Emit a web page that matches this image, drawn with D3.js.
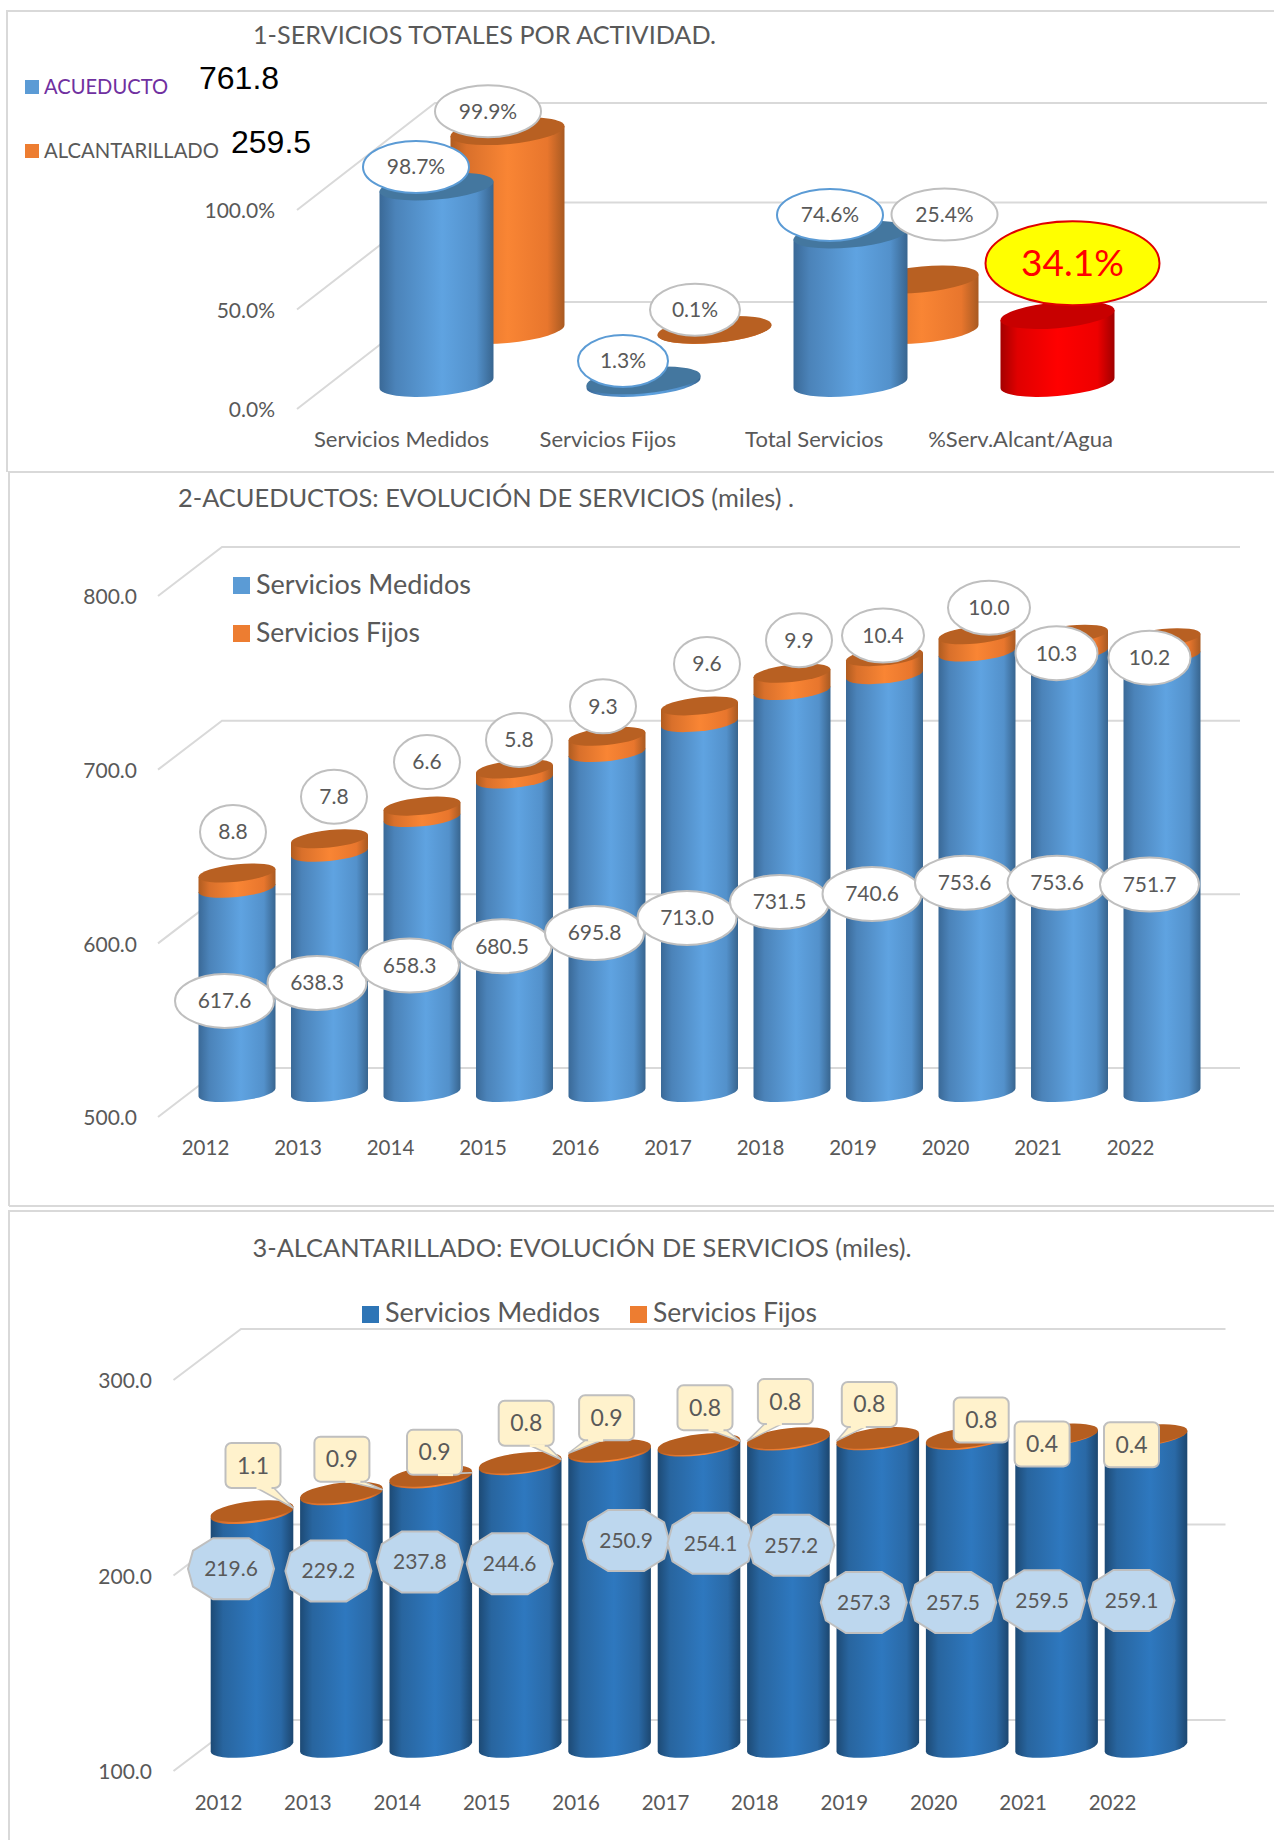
<!DOCTYPE html>
<html><head><meta charset="utf-8">
<script src="https://cdn.jsdelivr.net/npm/d3@7"></script>
<style>
html,body{margin:0;padding:0;background:#fff}
svg{display:block}
text{font-family:Lato,"Open Sans",sans-serif;fill:#595959}
</style></head>
<body><svg id="c" width="1274" height="1840"></svg>
<script>
// ---------- data ----------
const activityCats = ["Servicios Medidos","Servicios Fijos","Total Servicios","%Serv.Alcant/Agua"];
const acueductoPct = [98.7,1.3,74.6];
const alcantarilladoPct = [99.9,0.1,25.4];
const ratioPct = 34.1;
const pctTicks = [0,50,100];
const acueductoTotal = 761.8;
const alcantarilladoTotal = 259.5;

const years = ["2012","2013","2014","2015","2016","2017","2018","2019","2020","2021","2022"];
const acuMedidos = [617.6,638.3,658.3,680.5,695.8,713.0,731.5,740.6,753.6,753.6,751.7];
const acuFijos   = [8.8,7.8,6.6,5.8,9.3,9.6,9.9,10.4,10.0,10.3,10.2];
const acuTicks   = [500,600,700,800];
const alcMedidos = [219.6,229.2,237.8,244.6,250.9,254.1,257.2,257.3,257.5,259.5,259.1];
const alcFijos   = [1.1,0.9,0.9,0.8,0.9,0.8,0.8,0.8,0.8,0.4,0.4];
const alcTicks   = [100,200,300];

// ---------- label placement (offsets from each bar's scaled position) ----------
const acuFijoOff = [[-4,-41],[4.5,-42],[5,-44],[4.5,-29],[-4,-30],[7.5,-42],[7,-33],[-1.5,-21],[12,-27],[-13,19],[-12.5,20]];
const alcMedOff = [[-21,55],[-13,76],[-11,84],[-10.5,99],[16.5,88],[11.5,97],[3,105],[-14,162.5],[-14,163],[-14.5,165],[-14.5,164]];
const alcFijoOff = [[1,-46],[0.5,-34],[3.7,-24],[6,-40],[-3,-33],[6,-37],[-3,-37],[-8.5,-34],[14,-18],[-14.5,9],[-14.5,9]];
const alcPointer = ["r","r","r","r","l","r","l","l",null,null,null];

const svg = d3.select("#c");
const defs = svg.append("defs");
const GRID = "#d9d9d9", TXT = "#595959";

function grad(id, stops){
  const g = defs.append("linearGradient").attr("id",id).attr("x1",0).attr("x2",1).attr("y1",0).attr("y2",0);
  stops.forEach(([o,c])=>g.append("stop").attr("offset",o).attr("stop-color",c));
}
grad("gBlue",[[0,"#3a6997"],[.14,"#4b83b9"],[.55,"#5fa3e1"],[.85,"#5391cb"],[1,"#38658f"]]);
grad("gOrange",[[0,"#b05c20"],[.14,"#d9702b"],[.5,"#f98534"],[.85,"#e8762d"],[1,"#a85a22"]]);
grad("gRed",[[0,"#a40000"],[.15,"#e00000"],[.5,"#ff0000"],[.85,"#ee0000"],[1,"#a00000"]]);
grad("gDark",[[0,"#1d4a75"],[.15,"#28659f"],[.55,"#2e78bf"],[.85,"#2a69a6"],[1,"#1c4770"]]);

function label(x,y,str,o={}){
  const t = svg.append("text").attr("x",x).attr("y",y).attr("dy",".35em").text(str)
    .attr("text-anchor",o.anchor||"middle").style("font-size",(o.size||21)+"px");
  if(o.width) t.attr("textLength",o.width).attr("lengthAdjust","spacingAndGlyphs");
  if(o.color) t.style("fill",o.color);
  if(o.family) t.style("font-family",o.family);
  return t;
}
function frame(x,y1,y2){
  svg.append("path").attr("d",`M${x},${y2}V${y1}H1274`).attr("fill","none").attr("stroke",GRID).attr("stroke-width",2);
}
function plane(y,ticks,xFront,dx,dy,xRight){
  ticks.forEach(t=>{
    const py=y(t);
    svg.append("path").attr("d",d3.line()([[xFront,py],[xFront+dx,py-dy],[xRight,py-dy]]))
      .attr("fill","none").attr("stroke",GRID).attr("stroke-width",2);
  });
}
function yAxis(y,ticks,fmt,x){
  const g = svg.append("g").attr("transform",`translate(${x},0)`)
    .call(d3.axisLeft(y).tickValues(ticks).tickFormat(fmt).tickSize(0).tickPadding(0));
  g.select(".domain").remove();
  g.selectAll("text").attr("dy",".38em").style("font-family","Lato").style("font-size","21px").style("fill",TXT);
}
function xAxis(x,yPos,size){
  const g = svg.append("g").attr("transform",`translate(0,${yPos})`)
    .call(d3.axisBottom(x).tickSize(0).tickPadding(0));
  g.select(".domain").remove();
  g.selectAll("text").attr("y",0).attr("dy",".35em").style("font-family","Lato").style("font-size",size+"px").style("fill",TXT);
}
// one cylinder segment: base centre (cx,yBase), top at yTop
function cyl(cx,yBase,yTop,c){
  const h=yBase-yTop, g=svg.append("g").attr("transform",`translate(${cx},${yBase}) skewY(${c.skew})`);
  g.append("path").attr("d",`M${-c.rx},${-h}V0A${c.rx},${c.ry} 0 0 0 ${c.rx},0V${-h}Z`).attr("fill",`url(#${c.body})`);
  if(c.cap) g.append("ellipse").attr("cx",0).attr("cy",-h).attr("rx",c.rx).attr("ry",c.ry).attr("fill",c.cap);
}
function bubble(x,y,str,o={}){
  svg.append("ellipse").attr("cx",x).attr("cy",y).attr("rx",o.rx).attr("ry",o.ry)
    .attr("fill",o.fill||"#fff").attr("stroke",o.stroke||"#bfbfbf").attr("stroke-width",o.sw||2);
  label(x,y,str,{size:o.size||21,color:o.color});
}

// ---------- chart 1 ----------
frame(7,11,472);
label(484.5,35,"1-SERVICIOS TOTALES POR ACTIVIDAD.",{size:25,width:463});
[[80,"#5b9bd5","ACUEDUCTO","#7030a0",124,acueductoTotal,199,78],[144,"#ed7d31","ALCANTARILLADO",TXT,175,alcantarilladoTotal,231,142]]
.forEach(([sy,col,name,tc,w,val,vx,vy])=>{
  svg.append("rect").attr("x",25).attr("y",sy).attr("width",14).attr("height",14).attr("fill",col);
  label(44,sy+7,name,{anchor:"start",size:21,width:w,color:tc});
  label(vx,vy,val.toFixed(1),{anchor:"start",size:32,color:"#000",family:"Liberation Sans"});
});
{
  const y = d3.scaleLinear().domain([0,100]).range([409,210]);
  const x = d3.scalePoint().domain(activityCats).range([401,1020]);
  const xBar = d3.scalePoint().domain(activityCats).range([436.5,1057.5]);
  const front=-26, back=-79;             // depth offsets of the two rows
  const bx=c=>xBar(c), ox=c=>xBar(c)+71;
  plane(y,pctTicks,297,138,107,1267);
  yAxis(y,pctTicks,d=>d.toFixed(1)+"%",275);
  xAxis(x,439,22);
  const base={rx:57,ry:13,skew:-5};
  activityCats.slice(0,3).forEach((c,i)=>{
    cyl(ox(c),y(0)+back,y(alcantarilladoPct[i])+back,{...base,body:"gOrange",cap:"#b86022"});
    cyl(bx(c),y(0)+front,y(acueductoPct[i])+front,{...base,body:"gBlue",cap:"#44779f"});
  });
  const c4=activityCats[3];
  cyl(bx(c4),y(0)+front,y(ratioPct)+front,{...base,body:"gRed",cap:"#c80000"});
  activityCats.slice(0,3).forEach((c,i)=>{
    const ox2 = i==2 ? [23,-65] : [-19.5,-20];
    const rx = i==1?45:53;
    bubble(bx(c)-20.5,y(acueductoPct[i])+front-19.5,acueductoPct[i].toFixed(1)+"%",{rx,ry:26,stroke:"#5b9bd5"});
    bubble(ox(c)+ox2[0],y(alcantarilladoPct[i])+back+ox2[1],alcantarilladoPct[i].toFixed(1)+"%",{rx,ry:26});
  });
  bubble(bx(c4)+15,y(ratioPct)+front-52,ratioPct.toFixed(1)+"%",{rx:87,ry:42,fill:"#ffff00",stroke:"#e00000",size:37,color:"#ff0000"});
}

// ---------- chart 2 ----------
frame(9,472,1206);
svg.append("path").attr("d","M9,1206H1274").attr("stroke",GRID).attr("stroke-width",2);
label(486,498,"2-ACUEDUCTOS: EVOLUCIÓN DE SERVICIOS (miles) .",{size:25,width:616});
[[577,"#5b9bd5","Servicios Medidos",215],[625,"#ed7d31","Servicios Fijos",164]].forEach(([sy,col,name,w])=>{
  svg.append("rect").attr("x",233).attr("y",sy).attr("width",17).attr("height",17).attr("fill",col);
  label(256,sy+8,name,{anchor:"start",size:26,width:w});
});
{
  const y = d3.scaleLinear().domain([500,800]).range([1117,596]);
  const x = d3.scalePoint().domain(years).range([205,1130]);
  const depth=-24.5, shift=32;
  plane(y,acuTicks,158,64,49,1240);
  yAxis(y,acuTicks,d=>d.toFixed(1),137);
  xAxis(x,1148,20.5);
  const c={rx:38.5,ry:8.7,skew:-5.8};
  years.forEach((yr,i)=>{
    const cx=x(yr)+shift, yb=y(500)+depth, ym=y(acuMedidos[i])+depth, yt=y(acuMedidos[i]+acuFijos[i])+depth;
    cyl(cx,yb,ym,{...c,body:"gBlue"});
    cyl(cx,ym,yt,{...c,body:"gOrange",cap:"#b86022"});
  });
  years.forEach((yr,i)=>{
    const cx=x(yr)+shift, yb=y(500)+depth, ym=y(acuMedidos[i])+depth, yt=y(acuMedidos[i]+acuFijos[i])+depth;
    const big=acuFijos[i]>=10;
    bubble(cx-12.5,(yb+ym)/2+10.5,acuMedidos[i].toFixed(1),{rx:49.5,ry:27});
    bubble(cx+acuFijoOff[i][0],yt+acuFijoOff[i][1],acuFijos[i].toFixed(1),{rx:big?41:33,ry:27});
  });
}

// ---------- chart 3 ----------
frame(9,1211,1840);
label(582,1248,"3-ALCANTARILLADO: EVOLUCIÓN DE SERVICIOS (miles).",{size:25,width:659});
[[362,"#2e75b6","Servicios Medidos",215],[630,"#ed7d31","Servicios Fijos",164]].forEach(([sx,col,name,w])=>{
  svg.append("rect").attr("x",sx).attr("y",1306).attr("width",17).attr("height",17).attr("fill",col);
  label(sx+23,1313,name,{anchor:"start",size:26,width:w});
});
{
  const y = d3.scaleLinear().domain([100,300]).range([1771,1380]);
  const x = d3.scalePoint().domain(years).range([218,1112]);
  const depth=-24, shift=34;
  plane(y,alcTicks,173.5,67.5,51,1225.5);
  yAxis(y,alcTicks,d=>d.toFixed(1),152);
  xAxis(x,1803,20.5);
  const c={rx:41.3,ry:9.8,skew:-6.5};
  years.forEach((yr,i)=>{
    const cx=x(yr)+shift, yb=y(100)+depth, ym=y(alcMedidos[i])+depth, yt=y(alcMedidos[i]+alcFijos[i])+depth;
    cyl(cx,yb,ym,{...c,body:"gDark"});
    cyl(cx,ym,yt,{...c,body:"gOrange",cap:"#b55e20"});
  });
  const deca=d3.line()([[-43,0],[-38,-18],[-18,-30.5],[18,-30.5],[38,-18],[43,0],[38,18],[18,30.5],[-18,30.5],[-38,18]])+"Z";
  years.forEach((yr,i)=>{
    const cx=x(yr)+shift, ym=y(alcMedidos[i])+depth, yt=y(alcMedidos[i]+alcFijos[i])+depth;
    const lx=cx+alcMedOff[i][0], ly=ym+alcMedOff[i][1]+0.5;
    svg.append("path").attr("d",deca).attr("transform",`translate(${lx},${ly})`)
      .attr("fill","#bdd7ee").attr("stroke","#bfbfbf").attr("stroke-width",2);
    label(lx,ly,alcMedidos[i].toFixed(1),{size:21});
    // callout
    const bx=cx+alcFijoOff[i][0], by=yt+alcFijoOff[i][1]+0.5, w=27.5, h=22.5, r=6;
    const p=alcPointer[i];
    if(p){
      const tipx=p=="r"?cx+c.rx:cx-c.rx, tipy=p=="r"?yt-3:yt+3;
      const x1=p=="r"?bx+2:bx-20, x2=p=="r"?bx+20:bx-2;
      svg.append("path").attr("d",d3.line()([[x1,by+h-1],[tipx,tipy],[x2,by+h-1]])+"Z")
        .attr("fill","#fff2cc").attr("stroke","#bfbfbf").attr("stroke-width",1.5);
    }
    svg.append("rect").attr("x",bx-w).attr("y",by-h).attr("width",2*w).attr("height",2*h).attr("rx",r)
      .attr("fill","#fff2cc").attr("stroke","#bfbfbf").attr("stroke-width",2);
    if(p){
      const x1=p=="r"?bx+2:bx-20, x2=p=="r"?bx+20:bx-2;
      svg.append("path").attr("d",`M${x1+1.5},${by+h}H${x2-1.5}`).attr("stroke","#fff2cc").attr("stroke-width",2.5);
    }
    label(bx,by,alcFijos[i].toFixed(1),{size:23});
  });
}
</script></body></html>
